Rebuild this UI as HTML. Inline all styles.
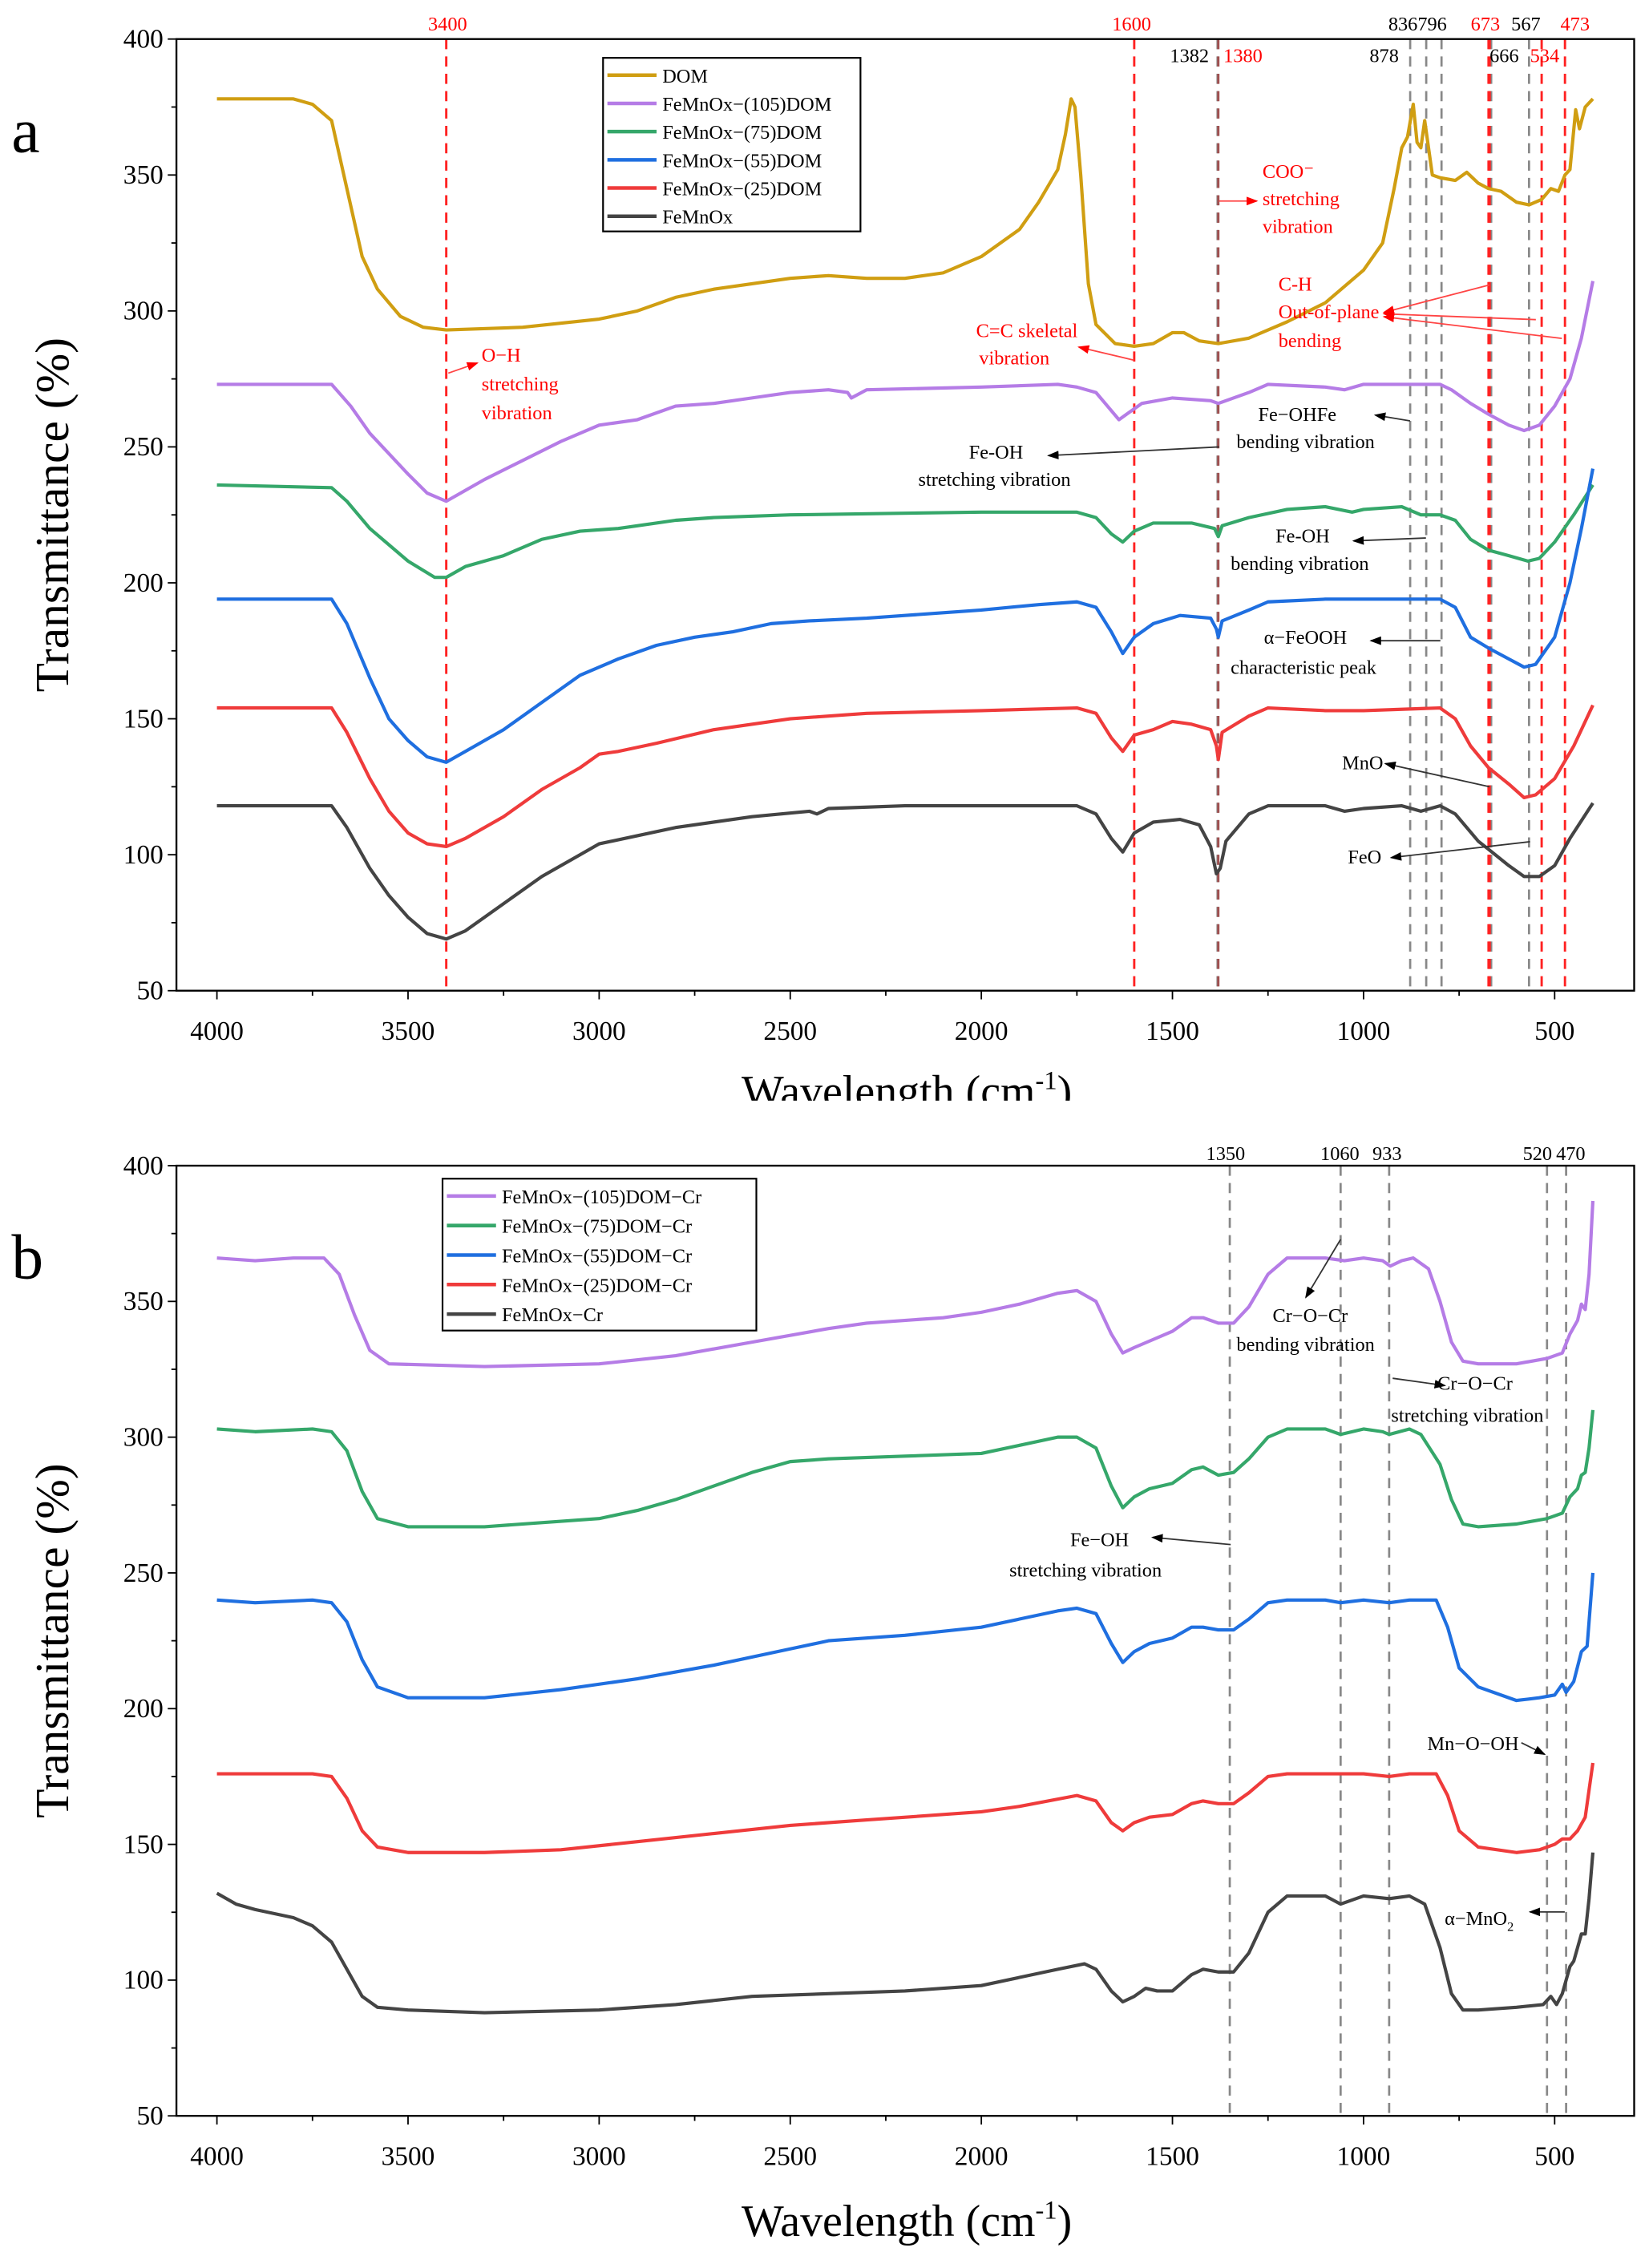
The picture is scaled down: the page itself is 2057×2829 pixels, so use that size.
<!DOCTYPE html>
<html><head><meta charset="utf-8"><style>
html,body{margin:0;padding:0;background:#fff;}
svg{display:block;font-family:"Liberation Serif",serif;}
</style></head><body>
<svg id="fig" width="2057" height="2829" viewBox="0 0 1140.25 1568.2" xmlns="http://www.w3.org/2000/svg">
<defs>
<clipPath id="clipA"><rect x="0" y="0" width="1140" height="761"/></clipPath>
<marker id="arrK" markerWidth="8" markerHeight="6" refX="7" refY="3" orient="auto"><path d="M0,0 L8,3 L0,6 z" fill="#000"/></marker>
<marker id="arrR" markerWidth="8" markerHeight="6" refX="7" refY="3" orient="auto"><path d="M0,0 L8,3 L0,6 z" fill="#f00"/></marker>
</defs>
<g id="panelA" clip-path="url(#clipA)"></g>
<g id="panelB"></g>
</svg>
<script>
// ---------- data (wavenumber cm-1, transmittance %) ----------
const xTicks = [4000,3500,3000,2500,2000,1500,1000,500];
const yTicks = [50,100,150,200,250,300,350,400];
const aNames = ["DOM","FeMnOx\u2212(105)DOM","FeMnOx\u2212(75)DOM","FeMnOx\u2212(55)DOM","FeMnOx\u2212(25)DOM","FeMnOx"];
const bNames = ["FeMnOx\u2212(105)DOM\u2212Cr","FeMnOx\u2212(75)DOM\u2212Cr","FeMnOx\u2212(55)DOM\u2212Cr","FeMnOx\u2212(25)DOM\u2212Cr","FeMnOx\u2212Cr"];
const aDOM = [[4000,378],[3900,378],[3800,378],[3750,376],[3700,370],[3660,345],[3620,320],[3580,308],[3520,298],[3460,294],[3400,293],[3200,294],[3000,297],[2900,300],[2800,305],[2700,308],[2600,310],[2500,312],[2400,313],[2300,312],[2200,312],[2100,314],[2000,320],[1900,330],[1850,340],[1800,352],[1780,365],[1765,378],[1755,375],[1740,350],[1720,310],[1700,295],[1650,288],[1600,287],[1550,288],[1500,292],[1470,292],[1430,289],[1380,288],[1300,290],[1200,296],[1100,303],[1000,315],[950,325],[920,345],[900,360],[885,364],[870,376],[860,362],[850,360],[840,370],[830,360],[820,350],[800,349],[760,348],[730,351],[700,347],[673,345],[640,344],[600,340],[567,339],[534,341],[510,345],[490,344],[473,350],[460,352],[445,374],[435,367],[420,375],[400,378]];
const a105 = [[4000,273],[3700,273],[3650,265],[3600,255],[3500,240],[3450,233],[3400,230],[3350,234],[3300,238],[3200,245],[3100,252],[3000,258],[2900,260],[2800,265],[2700,266],[2600,268],[2500,270],[2400,271],[2350,270],[2340,268],[2300,271],[2000,272],[1800,273],[1750,272],[1700,270],[1670,265],[1640,260],[1620,262],[1580,266],[1500,268],[1400,267],[1380,266],[1300,270],[1250,273],[1100,272],[1050,271],[1000,273],[900,273],[800,273],[770,271],[720,266],[673,262],[620,258],[580,256],[540,258],[500,265],[460,275],[430,290],[400,311]];
const a75 = [[4000,236],[3700,235],[3660,230],[3600,220],[3500,208],[3430,202],[3400,202],[3350,206],[3250,210],[3150,216],[3050,219],[2950,220],[2900,221],[2800,223],[2700,224],[2500,225],[2000,226],[1750,226],[1700,224],[1660,218],[1630,215],[1600,219],[1550,222],[1450,222],[1390,220],[1380,217],[1370,221],[1300,224],[1200,227],[1100,228],[1030,226],[1000,227],[900,228],[850,225],[800,225],[760,223],[720,216],[673,212],[620,210],[570,208],[540,209],[500,215],[450,225],[400,236]];
const a55 = [[4000,194],[3700,194],[3660,185],[3600,165],[3550,150],[3500,142],[3450,136],[3400,134],[3350,138],[3250,146],[3150,156],[3050,166],[2950,172],[2850,177],[2750,180],[2650,182],[2550,185],[2450,186],[2300,187],[2200,188],[2000,190],[1850,192],[1750,193],[1700,191],[1660,182],[1630,174],[1600,180],[1550,185],[1480,188],[1400,187],[1385,183],[1380,180],[1370,186],[1300,190],[1250,193],[1100,194],[900,194],[800,194],[760,191],[720,180],[673,176],[620,172],[580,169],[550,170],[500,180],[460,200],[430,220],[400,242]];
const a25 = [[4000,154],[3700,154],[3660,145],[3600,128],[3550,116],[3500,108],[3450,104],[3400,103],[3350,106],[3250,114],[3150,124],[3050,132],[3000,137],[2950,138],[2850,141],[2700,146],[2500,150],[2300,152],[2000,153],[1750,154],[1700,152],[1660,143],[1630,138],[1600,144],[1550,146],[1500,149],[1450,148],[1400,146],[1385,140],[1380,135],[1370,145],[1300,151],[1250,154],[1100,153],[1000,153],[800,154],[760,150],[720,140],[673,132],[620,126],[580,121],[550,122],[500,128],[450,140],[400,155]];
const a0 = [[4000,118],[3700,118],[3660,110],[3600,95],[3550,85],[3500,77],[3450,71],[3400,69],[3350,72],[3250,82],[3150,92],[3050,100],[3000,104],[2900,107],[2800,110],[2600,114],[2450,116],[2430,115],[2400,117],[2200,118],[1750,118],[1700,115],[1660,106],[1630,101],[1600,108],[1550,112],[1480,113],[1430,111],[1400,103],[1385,93],[1375,95],[1360,105],[1300,115],[1250,118],[1100,118],[1050,116],[1000,117],[900,118],[850,116],[800,118],[760,115],[700,105],[673,102],[620,96],[580,92],[540,92],[500,96],[460,106],[400,119]];
const b105 = [[4000,366],[3900,365],[3800,366],[3720,366],[3680,360],[3640,345],[3600,332],[3550,327],[3300,326],[3000,327],[2800,330],[2600,335],[2400,340],[2300,342],[2100,344],[2000,346],[1900,349],[1800,353],[1750,354],[1700,350],[1660,338],[1630,331],[1600,333],[1550,336],[1500,339],[1450,344],[1420,344],[1380,342],[1340,342],[1300,348],[1250,360],[1200,366],[1100,366],[1050,365],[1000,366],[950,365],[930,363],[900,365],[870,366],[830,362],[800,350],[770,335],[740,328],[700,327],[600,327],[520,329],[480,331],[460,338],[440,343],[430,349],[420,347],[410,360],[400,387]];
const b75 = [[4000,303],[3900,302],[3750,303],[3700,302],[3660,295],[3620,280],[3580,270],[3500,267],[3300,267],[3000,270],[2900,273],[2800,277],[2700,282],[2600,287],[2500,291],[2400,292],[2200,293],[2000,294],[1900,297],[1800,300],[1750,300],[1700,296],[1660,282],[1630,274],[1600,278],[1560,281],[1500,283],[1450,288],[1420,289],[1380,286],[1340,287],[1300,292],[1250,300],[1200,303],[1100,303],[1060,301],[1000,303],[950,302],[933,301],[880,303],[850,301],[800,290],[770,277],[740,268],[700,267],[600,268],[520,270],[480,272],[460,278],[440,281],[430,286],[420,287],[410,296],[400,310]];
const b55 = [[4000,240],[3900,239],[3750,240],[3700,239],[3660,232],[3620,218],[3580,208],[3500,204],[3300,204],[3100,207],[2900,211],[2700,216],[2500,222],[2400,225],[2200,227],[2000,230],[1900,233],[1800,236],[1750,237],[1700,235],[1660,224],[1630,217],[1600,221],[1560,224],[1500,226],[1450,230],[1420,230],[1380,229],[1340,229],[1300,233],[1250,239],[1200,240],[1100,240],[1060,239],[1000,240],[933,239],[880,240],[810,240],[780,230],[750,215],[700,208],[600,203],[540,204],[500,205],[480,209],[470,206],[450,210],[430,221],[415,223],[400,250]];
const b25 = [[4000,176],[3750,176],[3700,175],[3660,167],[3620,155],[3580,149],[3500,147],[3300,147],[3100,148],[2900,151],[2700,154],[2500,157],[2300,159],[2000,162],[1900,164],[1750,168],[1700,166],[1660,158],[1630,155],[1600,158],[1560,160],[1500,161],[1450,165],[1420,166],[1380,165],[1340,165],[1300,169],[1250,175],[1200,176],[1100,176],[1000,176],[933,175],[880,176],[810,176],[780,168],[750,155],[700,149],[600,147],[540,148],[500,150],[480,152],[460,152],[440,155],[420,160],[400,180]];
const b0 = [[4000,132],[3950,128],[3900,126],[3800,123],[3750,120],[3700,114],[3660,104],[3620,94],[3580,90],[3500,89],[3300,88],[3000,89],[2800,91],[2600,94],[2400,95],[2200,96],[2000,98],[1900,101],[1800,104],[1730,106],[1700,104],[1660,96],[1630,92],[1600,94],[1570,97],[1540,96],[1500,96],[1450,102],[1420,104],[1380,103],[1340,103],[1300,110],[1250,125],[1200,131],[1100,131],[1060,128],[1000,131],[933,130],[880,131],[840,128],[800,112],[770,95],[740,89],[700,89],[600,90],[530,91],[510,94],[495,91],[480,95],[470,100],[460,105],[450,107],[440,112],[430,117],[420,117],[410,130],[400,147]];
const aRedLines = [3400,1600,673,534,473];
const aGrayLines = [1382,878,836,796,666,567];
const bGrayLines = [1350,1060,933,520,470];

const colorsA = ["#d09e12","#b57ce6","#35a76a","#1f6fe0","#ef3b3b","#444"];
const colorsB = ["#b57ce6","#35a76a","#1f6fe0","#ef3b3b","#444"];

const NS="http://www.w3.org/2000/svg";
function mk(parent,tag,attrs,text){const e=document.createElementNS(NS,tag);for(const k in attrs)e.setAttribute(k,attrs[k]);if(text!==undefined)e.textContent=text;parent.appendChild(e);return e;}
function xs(w){return 150+(4000-w)*0.26429;}

function drawPanel(g,top,bottom,series,names,colors,letter,legend,titleOff){
  const ys=v=>bottom-(v-50)*(bottom-top)/350;
  const box=mk(g,'rect',{x:122,y:top,width:1008,height:bottom-top,fill:'none',stroke:'#000','stroke-width':1.3});
  
  
  for(let v=50;v<=400;v+=25){
    const major=(v%50===0);
    const t=mk(g,'line',{x1:122-(major?6:3.5),x2:122,y1:ys(v),y2:ys(v),stroke:'#000','stroke-width':1});
    
    
  }
  yTicks.forEach(v=>{
    const t=mk(g,'text',{x:113,y:ys(v)+6,'text-anchor':'end','font-size':18.5},String(v));
    
    
  });
  for(let w=4000;w>=500;w-=250){
    const major=(w%500===0);
    const t=mk(g,'line',{x1:xs(w),x2:xs(w),y1:bottom,y2:bottom+(major?6:3.5),stroke:'#000','stroke-width':1});
    
    
  }
  xTicks.forEach(w=>{
    const t=mk(g,'text',{x:xs(w),y:bottom+34,'text-anchor':'middle','font-size':18.5},String(w));
    
    
  });
  const yt=mk(g,'text',{x:0,y:0,'text-anchor':'middle','font-size':33,transform:`translate(47,${(top+bottom)/2}) rotate(-90)`},'Transmittance (%)');
  
  
  const xt=mk(g,'text',{x:627,y:bottom+titleOff,'text-anchor':'middle','font-size':31},'Wavelength (cm');
  
  
  mk(xt,'tspan',{'font-size':18,dy:-12},'-1');
  mk(xt,'tspan',{dy:12},')');
  const lt=mk(g,'text',{x:8,y:top+78,'font-size':44},letter);
  
  
  series.forEach((s,i)=>{
    const d=s.map((p,j)=>(j?'L':'M')+xs(p[0]).toFixed(2)+','+ys(p[1]).toFixed(2)).join(' ');
    const p=mk(g,'path',{d:d,fill:'none',stroke:colors[i],'stroke-width':2.3,'stroke-linejoin':'round'});
    
    
  });
  const lg=mk(g,'g',{});
  
  
  const lb=mk(lg,'rect',{x:legend.x,y:legend.y,width:legend.w,height:legend.h,fill:'#fff',stroke:'#000','stroke-width':1.2});
  
  
  names.forEach((n,i)=>{
    const yy=legend.y+12+i*legend.dy;
    const l=mk(lg,'line',{x1:legend.x+3,x2:legend.x+legend.ll,y1:yy,y2:yy,stroke:colors[i],'stroke-width':2.5});
    
    
    const t=mk(lg,'text',{x:legend.x+legend.ll+4,y:yy+5,'font-size':13.5},n);
    
    
  });
  return ys;
}

function vline(g,w,top,bottom,color,width){
  const l=mk(g,'line',{x1:xs(w),x2:xs(w),y1:top,y2:bottom,stroke:color,'stroke-width':width,'stroke-dasharray':'7,5'});
  
  
}
function txt(g,x,y,s,color,size,name){
  const t=mk(g,'text',{x:x,y:y,fill:color,'font-size':size||13.5},s);
  
  
  return t;
}
function arrow(g,x1,y1,x2,y2,red){
  const l=mk(g,'line',{x1:x1,y1:y1,x2:x2,y2:y2,stroke:red?'#f44':'#333','stroke-width':1,'marker-end':red?'url(#arrR)':'url(#arrK)'});
  
  
}

// ---------- panel a ----------
const gA=document.getElementById('panelA');
aGrayLines.forEach(w=>vline(gA,w,27,685,'#888',1.5));
aRedLines.forEach(w=>vline(gA,w,27,685,'#f22',1.6));
vline(gA,1380,27,685,'#a05050',1.6);
vline(gA,670,27,685,'#f22',1.6);
drawPanel(gA,27,685,[aDOM,a105,a75,a55,a25,a0],aNames,colorsA,'a',{x:417,y:40,w:178,h:120,dy:19.5,ll:37},80);
const R='#f00',K='#000';
txt(gA,296,21,'3400',R,13.5,'peak-label');
txt(gA,769,21,'1600',R,13.5,'peak-label');
txt(gA,809,43,'1382',K,13.5,'peak-label');
txt(gA,846,43,'1380',R,13.5,'peak-label');
txt(gA,947,43,'878',K,13.5,'peak-label');
txt(gA,960,21,'836796',K,13.5,'peak-label');
txt(gA,1017,21,'673',R,13.5,'peak-label');
txt(gA,1045,21,'567',K,13.5,'peak-label');
txt(gA,1079,21,'473',R,13.5,'peak-label');
txt(gA,1030,43,'666',K,13.5,'peak-label');
txt(gA,1058,43,'534',R,13.5,'peak-label');
txt(gA,333,250,'O\u2212H',R);txt(gA,333,270,'stretching',R);txt(gA,333,290,'vibration',R);
arrow(gA,310,258,330,251,true);
txt(gA,675,233,'C=C skeletal',R);txt(gA,677,252,'vibration',R);
arrow(gA,784,249,746,240,true);
txt(gA,873,123,'COO\u207B',R);txt(gA,873,142,'stretching',R);txt(gA,873,161,'vibration',R);
arrow(gA,843,139,869,139,true);
txt(gA,884,201,'C-H',R);txt(gA,884,220,'Out-of-plane',R);txt(gA,884,240,'bending',R);
arrow(gA,1030,197,957,216,true);arrow(gA,1062,221,957,217,true);arrow(gA,1080,234,957,219,true);
txt(gA,870,291,'Fe\u2212OHFe',K);txt(gA,855,310,'bending vibration',K);
arrow(gA,975,291,951,287,false);
txt(gA,670,317,'Fe-OH',K);txt(gA,635,336,'stretching vibration',K);
arrow(gA,843,309,725,315,false);
txt(gA,882,375,'Fe-OH',K);txt(gA,851,394,'bending vibration',K);
arrow(gA,986,372,936,374,false);
txt(gA,874,445,'\u03B1\u2212FeOOH',K);txt(gA,851,466,'characteristic peak',K);
arrow(gA,996,443,948,443,false);
txt(gA,928,532,'MnO',K);arrow(gA,1030,544,958,528,false);
txt(gA,932,597,'FeO',K);arrow(gA,1058,582,962,593,false);

// ---------- panel b ----------
const gB=document.getElementById('panelB');
bGrayLines.forEach(w=>vline(gB,w,806,1463,'#888',1.5));
drawPanel(gB,806,1463,[b105,b75,b55,b25,b0],bNames,colorsB,'b',{x:306,y:815,w:217,h:105,dy:20.4,ll:37},83);
txt(gB,834,802,'1350',K,13.5,'peak-label');
txt(gB,913,802,'1060',K,13.5,'peak-label');
txt(gB,949,802,'933',K,13.5,'peak-label');
txt(gB,1053,802,'520',K,13.5,'peak-label');
txt(gB,1076,802,'470',K,13.5,'peak-label');
txt(gB,880,914,'Cr\u2212O\u2212Cr',K);txt(gB,855,934,'bending vibration',K);
arrow(gB,927,857,903,897,false);
txt(gB,994,961,'Cr\u2212O\u2212Cr',K);txt(gB,962,983,'stretching vibration',K);
arrow(gB,963,953,999,958,false);
txt(gB,740,1069,'Fe\u2212OH',K);txt(gB,698,1090,'stretching vibration',K);
arrow(gB,851,1068,797,1063,false);
txt(gB,987,1210,'Mn\u2212O\u2212OH',K);arrow(gB,1052,1205,1068,1213,false);
const am=txt(gB,999,1331,'\u03B1\u2212MnO',K);mk(am,'tspan',{'font-size':9,dy:4},'2');
arrow(gB,1082,1322,1058,1322,false);
</script>
</body></html>
